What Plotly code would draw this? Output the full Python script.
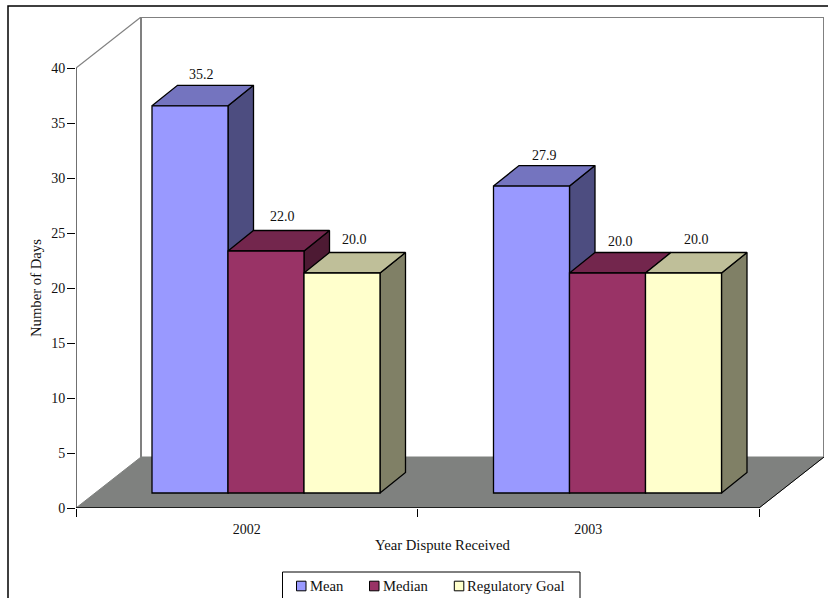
import plotly.graph_objects as go

# Chart data
years = ["2002", "2003"]
mean_days = [35.2, 27.9]
median_days = [22.0, 20.0]
goal_days = [20.0, 20.0]
y_ticks = [0, 5, 10, 15, 20, 25, 30, 35, 40]

SERIES = [
    ("Mean", mean_days, "#9999FF", "#7474BF", "#4D4D80"),
    ("Median", median_days, "#993366", "#73264D", "#4D1A33"),
    ("Regulatory Goal", goal_days, "#FFFFCC", "#BFBF99", "#808066"),
]

# Page layout in pixels; the plot area also holds the receding walls
WIDTH, HEIGHT = 828, 598
AXIS_LEFT, AXIS_BOTTOM = 76, 508
PX_X, PX_Y = 341.5, 11.0   # pixels per category, pixels per day
WALL_PX_X, WALL_PX_Y = 65, 51
M_LEFT, M_BOTTOM = AXIS_LEFT, HEIGHT - AXIS_BOTTOM
PLOT_W = 2 * PX_X + WALL_PX_X
PLOT_H = 40 * PX_Y + WALL_PX_Y
M_RIGHT = WIDTH - M_LEFT - PLOT_W
M_TOP = HEIGHT - M_BOTTOM - PLOT_H

# Oblique projection, in data units
WALL_DX, WALL_DY = WALL_PX_X / PX_X, WALL_PX_Y / PX_Y
BAR_DX, BAR_DY = 25.5 / PX_X, 20.5 / PX_Y
BAR_W = 76 / PX_X
BAR_LIFT = 15 / PX_Y
X0, X1, Y1 = -0.5, 1.5, 40

# Small placement nudges for the value labels (pixels)
LABEL_DX = [[-1.5, 0], [4, 0], [0, 0]]
LABEL_DY = [[11, 10], [14.5, 11.5], [13.5, 13.5]]
FONT = dict(family="Liberation Serif", size=14, color="#111111")
TITLE_FONT = dict(family="Liberation Serif", size=14.7, color="#111111")


def px(x):
    return (x - M_LEFT) / PLOT_W


def py(y):
    return (AXIS_BOTTOM - y) / PLOT_H


def poly(xs, ys, fill, line_color="black", line_width=1.3):
    return go.Scatter(
        x=xs + xs[:1], y=ys + ys[:1], mode="lines", fill="toself", fillcolor=fill,
        line=dict(color=line_color, width=line_width, simplify=False),
        showlegend=False, hoverinfo="skip", xaxis="x", yaxis="y",
    )


def stroke(xs, ys, color, width):
    return go.Scatter(
        x=xs, y=ys, mode="lines", line=dict(color=color, width=width, simplify=False),
        cliponaxis=False, showlegend=False, hoverinfo="skip", xaxis="x", yaxis="y",
    )


fig = go.Figure()

# Floor and back walls of the 3-D box
fig.add_trace(poly([X0, X0 + WALL_DX, X1 + WALL_DX, X1], [0, WALL_DY, WALL_DY, 0],
                   "#7F817F", "#7F817F", 1))
fig.add_trace(stroke([X1, X1 + WALL_DX], [0, WALL_DY], "black", 1))
fig.add_trace(stroke([X0 + WALL_DX, X0 + WALL_DX, X1 + WALL_DX, X1 + WALL_DX],
                     [WALL_DY, Y1 + WALL_DY, Y1 + WALL_DY, WALL_DY], "#808080", 2))
fig.add_trace(stroke([X0, X0 + WALL_DX], [Y1, Y1 + WALL_DY], "#808080", 1.2))

# Axis lines stop at the front of the box
fig.add_trace(stroke([X0, X0], [0, Y1], "#222222", 1.3))
fig.add_trace(stroke([X0, X1], [0, 0], "black", 1.3))

# Side and top faces, painted left to right so nearer ones overlap
for g in range(len(years)):
    for s, (name, vals, front, top, side) in enumerate(SERIES):
        left = g + X0 + BAR_W * (1 + s)
        right = left + BAR_W
        h = BAR_LIFT + vals[g]
        fig.add_trace(poly([right, right + BAR_DX, right + BAR_DX, right],
                           [h, h + BAR_DY, BAR_LIFT + BAR_DY, BAR_LIFT], side))
        fig.add_trace(poly([left, left + BAR_DX, right + BAR_DX, right],
                           [h, h + BAR_DY, h + BAR_DY, h], top))

# Front faces, on the category axis so they overlay the box
for s, (name, vals, front, top, side) in enumerate(SERIES):
    fig.add_trace(go.Bar(
        name=name, x=years, y=vals, base=[BAR_LIFT] * len(vals),
        width=BAR_W, offset=-0.5 + BAR_W * (1 + s),
        marker=dict(color=front, line=dict(color="black", width=1.3)),
        showlegend=False, xaxis="x2", yaxis="y",
    ))

# Value labels above each bar
annotations = []
for g in range(len(years)):
    for s, (name, vals, *_colors) in enumerate(SERIES):
        annotations.append(dict(
            x=g + X0 + BAR_W * (1.5 + s) + BAR_DX / 2,
            y=BAR_LIFT + vals[g] + BAR_DY,
            xref="x", yref="y", text=f"{vals[g]:.1f}", showarrow=False,
            xanchor="center", yanchor="middle",
            xshift=LABEL_DX[s][g], yshift=LABEL_DY[s][g], font=FONT,
        ))

# Axis titles
annotations.append(dict(
    x=px(442), y=py(545), xref="paper", yref="paper", text="Year Dispute Received",
    showarrow=False, xanchor="center", yanchor="middle", font=TITLE_FONT,
))
annotations.append(dict(
    x=px(36), y=py(288), xref="paper", yref="paper", text="Number of Days", textangle=-90,
    showarrow=False, xanchor="center", yanchor="middle", font=TITLE_FONT,
))

shapes = [
    # Outer chart frame, running off the page on the right and bottom
    dict(type="rect", xref="paper", yref="paper", layer="below",
         x0=px(8), x1=px(WIDTH + 20), y0=py(HEIGHT + 20), y1=py(6),
         line=dict(color="black", width=1.5)),
    # Legend box
    dict(type="rect", xref="paper", yref="paper", layer="above",
         x0=px(282.5), x1=px(580), y0=py(HEIGHT + 8), y1=py(572),
         line=dict(color="black", width=1), fillcolor="white"),
]

# Legend entries: swatch and text positions per series
LEGEND_SWATCH_X = [296.5, 369.5, 454.3]
LEGEND_TEXT_X = [308, 380.7, 465.3]
LEGEND_Y = 586
for (name, vals, front, *_rest), sx, tx in zip(SERIES, LEGEND_SWATCH_X, LEGEND_TEXT_X):
    shapes.append(dict(
        type="rect", xref="paper", yref="paper", layer="above",
        x0=px(sx), x1=px(sx + 9.5), y0=py(LEGEND_Y + 4.8), y1=py(LEGEND_Y - 4.8),
        line=dict(color="black", width=1), fillcolor=front,
    ))
    annotations.append(dict(
        x=px(tx), y=py(LEGEND_Y), xref="paper", yref="paper", text=name, showarrow=False,
        xanchor="left", yanchor="middle", font=TITLE_FONT,
    ))

fig.update_layout(
    width=WIDTH, height=HEIGHT,
    margin=dict(l=M_LEFT, r=M_RIGHT, t=M_TOP, b=M_BOTTOM, pad=0, autoexpand=False),
    paper_bgcolor="white", plot_bgcolor="rgba(0,0,0,0)",
    font=FONT, barmode="overlay", annotations=annotations, shapes=shapes,
    hovermode=False, showlegend=False,
    xaxis=dict(range=[X0, X1 + WALL_DX], visible=False, fixedrange=True),
    xaxis2=dict(
        type="category", categoryorder="array", categoryarray=years,
        range=[X0, X1 + WALL_DX], overlaying="x", anchor="y", side="bottom",
        tickson="boundaries", ticks="outside", ticklen=8, tickcolor="black", tickwidth=1,
        ticklabelstandoff=11, showline=False, showgrid=False, zeroline=False,
        tickfont=FONT, fixedrange=True,
    ),
    yaxis=dict(
        range=[0, Y1 + WALL_DY], tickvals=y_ticks, ticks="outside", ticklen=8,
        tickcolor="black", tickwidth=1, ticklabelstandoff=-1, showline=False,
        showgrid=False, zeroline=False, tickfont=FONT, fixedrange=True,
    ),
)

fig.write_html("out.html")
